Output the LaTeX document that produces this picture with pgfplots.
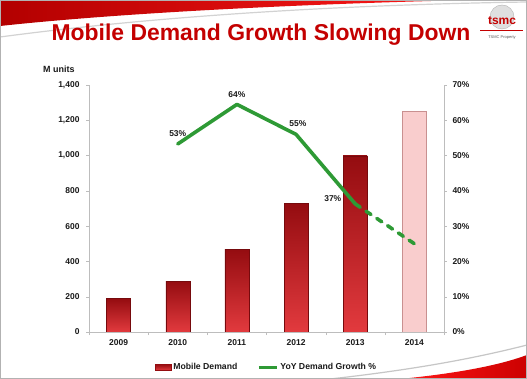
\documentclass[border=0pt]{standalone}
\usepackage{pgfplots}
\pgfplotsset{compat=1.18}
\usepackage{fontspec}
\setmainfont{Liberation Sans}
\definecolor{tred}{HTML}{C40000}
\definecolor{bardark}{HTML}{940C10}
\definecolor{barlight}{HTML}{E23A3E}
\definecolor{pinkfill}{HTML}{F9CDCD}
\definecolor{pinkedge}{HTML}{C99090}
\definecolor{lgreen}{HTML}{2E9A35}
\definecolor{axgray}{HTML}{BDBDBD}
\definecolor{txt}{HTML}{1A1A1A}
\pgfplotsset{barsty/.style={ybar, bar width=24bp, draw=bardark!80!black, top color=bardark, bottom color=barlight}}
\begin{document}
\begin{tikzpicture}
\path[use as bounding box] (0bp,0bp) rectangle (527bp,379bp);
\fill[white] (0bp,0bp) rectangle (527bp,379bp);
% top swoosh
\draw[gray!35, line width=1.2bp] (0bp,342bp) .. controls (150bp,362bp) and (330bp,374bp) .. (527bp,377bp);
\shade[left color=red!70!black, right color=red!90!white] (0bp,379bp) -- (0bp,353bp) .. controls (120bp,366bp) and (300bp,375bp) .. (470bp,379bp) -- cycle;
% bottom swoosh
\draw[gray!45, line width=1.2bp] (330bp,0bp) .. controls (420bp,10bp) and (480bp,22bp) .. (527bp,34bp);
\shade[left color=red!90!white, right color=red!80!black] (400bp,0bp) .. controls (460bp,6bp) and (500bp,14bp) .. (527bp,24bp) -- (527bp,0bp) -- cycle;
\draw[gray!60] (0.5bp,0.5bp) rectangle (526.5bp,378.5bp);
% title
\node[text=tred, font=\bfseries\fontsize{23}{27}\selectfont] at (261bp,344bp) {Mobile Demand Growth Slowing Down};
% logo
\fill[gray!25] (502bp,362bp) circle (12bp);
\draw[gray!60] (502bp,362bp) circle (12bp);
\node[text=tred, font=\bfseries\fontsize{12}{12}\selectfont] at (502bp,358bp) {tsmc};
\draw[tred, line width=0.8bp] (480bp,349bp) -- (523bp,349bp);
\node[font=\fontsize{4}{4}\selectfont, text=gray!70!black] at (502bp,341bp) {TSMC Property};
\node[font=\bfseries\fontsize{9}{10}\selectfont, anchor=west, text=txt, inner sep=0pt] at (43bp,310bp) {M units};
\begin{axis}[
  at={(89bp,47bp)}, anchor=south west,
  scale only axis, width=355bp, height=247bp,
  xmin=-0.5, xmax=5.5, ymin=0, ymax=1400,
  axis y line*=left, axis x line*=bottom,
  axis line style={axgray, line width=0.6bp},
  xtick={0,1,2,3,4,5},
  xticklabels={2009,2010,2011,2012,2013,2014},
  minor xtick={-0.5,0.5,1.5,2.5,3.5,4.5,5.5},
  major x tick style={draw=none},
  minor x tick style={axgray},
  minor tick length=3bp,
  ytick={0,200,...,1400},
  y tick style={axgray},
  major tick length=3bp,
  tick align=outside,
  /pgf/number format/assume math mode=true,
  /pgf/number format/1000 sep={,},
  ticklabel style={font=\bfseries\fontsize{8.5}{9}\selectfont, text=txt},
  yticklabel style={xshift=-3bp},
  xticklabel style={yshift=-1bp},
  legend style={at={(0.5,-0.11)}, anchor=north, draw=none, fill=none,
    legend columns=2, font=\bfseries\fontsize{8.7}{9}\selectfont, text=txt,
    inner xsep=0pt,
    /tikz/every even column/.append style={column sep=18bp}},
  legend image code/.code={\fill[barlight, draw=bardark] (0bp,-3bp) rectangle (16bp,3bp);},
]
\addplot[barsty] coordinates {(0,190)};
\addlegendentry{Mobile Demand}
\addplot[barsty, forget plot] coordinates {(1,289)};
\addplot[barsty, forget plot] coordinates {(2,470)};
\addplot[barsty, forget plot] coordinates {(3,731)};
\addplot[barsty, forget plot] coordinates {(4,998)};
\addplot[ybar, bar width=24bp, draw=pinkedge, fill=pinkfill, forget plot]
  coordinates {(5,1253)};
\addlegendimage{legend image code/.code={\draw[lgreen, line width=3bp] (0bp,0bp) -- (18bp,0bp);}}
\addlegendentry{YoY Demand Growth \%}
\end{axis}
\begin{axis}[
  at={(89bp,47bp)}, anchor=south west,
  scale only axis, width=355bp, height=247bp,
  xmin=-0.5, xmax=5.5, ymin=0, ymax=70,
  axis y line*=right, axis x line=none,
  axis line style={axgray, line width=0.6bp},
  ytick={0,10,...,70},
  y tick style={axgray},
  major tick length=3bp,
  tick align=outside,
  /pgf/number format/assume math mode=true,
  yticklabel={\pgfmathprintnumber{\tick}\%},
  ticklabel style={font=\bfseries\fontsize{8.5}{9}\selectfont, text=txt},
  yticklabel style={xshift=2bp},
]
\addplot[lgreen, line width=3.6bp, line join=round, line cap=round]
  coordinates {(1,53.3) (2,64.5) (3,56) (4,36.3)};
\addplot[lgreen, line width=3.6bp, dash pattern=on 6bp off 7bp, line cap=round]
  coordinates {(4,36.3) (5,25)};
\node[font=\bfseries\fontsize{8.5}{9}\selectfont, text=txt] at (axis cs:1,56.1) {53\%};
\node[font=\bfseries\fontsize{8.5}{9}\selectfont, text=txt] at (axis cs:2,67.3) {64\%};
\node[font=\bfseries\fontsize{8.5}{9}\selectfont, text=txt] at (axis cs:3.03,59.2) {55\%};
\node[font=\bfseries\fontsize{8.5}{9}\selectfont, text=txt] at (axis cs:3.62,37.9) {37\%};
\end{axis}
\end{tikzpicture}
\end{document}
